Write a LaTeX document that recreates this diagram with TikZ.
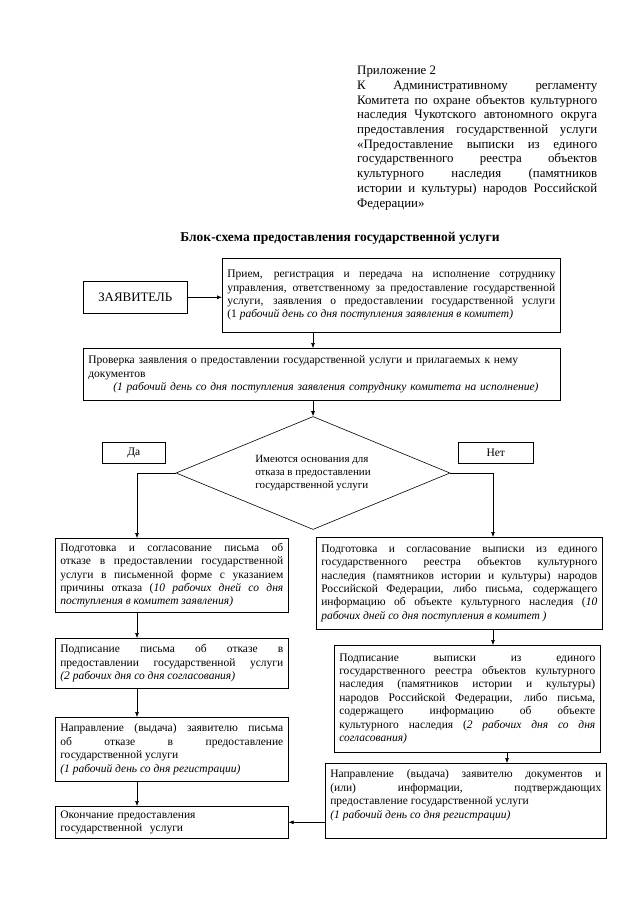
\documentclass[tikz,border=0pt]{standalone}
\usepackage{fontspec}
\setmainfont{Liberation Serif}
\usetikzlibrary{shapes.geometric,arrows.meta}
\hyphenpenalty=10000
\tikzset{
	blok/.style={draw, line width=0.6pt, anchor=north west, inner xsep=5pt, inner ysep=2pt, align=justify, font=\fontsize{11.5}{13.4}\selectfont},
	strelka/.style={line width=0.6pt, -{Latex[length=5pt,width=4pt]}},
}

\begin{document}
\begin{tikzpicture}[x=1pt,y=-1pt]
		%%%%% START %%%%%
		
		\fill[white] (0,0) rectangle (640,905);
		\useasboundingbox (0,0) rectangle (640,905);
		
		\node[anchor=north west, inner sep=0pt, text width=240pt, align=justify, font=\fontsize{12.9}{14.7}\selectfont] (prilozh) at (357,66) {Приложение 2\newline К Административному регламенту\linebreak Комитета по охране объектов культурного\linebreak наследия Чукотского автономного округа\linebreak предоставления государственной услуги\linebreak «Предоставление выписки из единого\linebreak государственного реестра объектов\linebreak культурного наследия (памятников\linebreak истории и культуры) народов Российской\linebreak Федерации»};
		
		\node[font=\bfseries\fontsize{13.5}{15}\selectfont] (zagolovok) at (340,238) {Блок-схема предоставления государственной услуги};
		
		\node[blok, text width=94pt, minimum height=32pt, align=center, font=\fontsize{12.9}{14.7}\selectfont] (zayav) at (83,281) {ЗАЯВИТЕЛЬ};
		\node[blok, text width=328pt, minimum height=74pt] (priem) at (222,258) {Прием, регистрация и передача на исполнение сотруднику\linebreak управления, ответственному за предоставление государственной\linebreak услуги, заявления о предоставлении государственной услуги\linebreak (1 \textit{рабочий день со дня поступления заявления в комитет)}};
		\node[blok, text width=467pt, minimum height=52pt, align=left] (proverka) at (83,348) {Проверка заявления о предоставлении государственной услуги и прилагаемых к нему\newline документов\newline \hspace*{25pt}\textit{(1 рабочий день со дня поступления заявления сотруднику комитета на исполнение)}};
		
		\node[draw, diamond, aspect=2.42, line width=0.6pt, minimum width=274pt, minimum height=113pt, inner sep=0pt, align=left, font=\fontsize{11}{13.2}\selectfont] (romb) at (313,473) {Имеются основания для\\отказа в предоставлении\\государственной услуги};
		\node[blok, text width=53pt, minimum height=21pt, align=center] (da) at (102,442) {Да};
		\node[blok, text width=65pt, minimum height=21pt, align=center] (net) at (458,442) {Нет};
		
		\node[blok, text width=223pt, minimum height=74pt] (otkaz1) at (55,538) {Подготовка и согласование письма об\linebreak отказе в предоставлении государственной\linebreak услуги в письменной форме с указанием\linebreak причины отказа (\textit{10 рабочих дней со дня\linebreak поступления в комитет заявления)}};
		\node[blok, text width=223pt, minimum height=50pt] (otkaz2) at (55,638) {Подписание письма об отказе в\linebreak предоставлении государственной услуги\linebreak \textit{(2 рабочих дня со дня согласования)}};
		\node[blok, text width=223pt, minimum height=64pt] (otkaz3) at (55,717) {Направление (выдача) заявителю письма\linebreak об отказе в предоставление\linebreak государственной услуги\newline \textit{(1 рабочий день со дня регистрации)}};
		\node[blok, text width=223pt, minimum height=32pt, align=left] (okonch) at (55,806) {Окончание предоставления\newline государственной\ \ услуги};
		
		\node[blok, text width=276pt, minimum height=92pt] (vyp1) at (316,537) {Подготовка и согласование выписки из единого\linebreak государственного реестра объектов культурного\linebreak наследия (памятников истории и культуры) народов\linebreak Российской Федерации, либо письма, содержащего\linebreak информацию об объекте культурного наследия (\textit{10\linebreak рабочих дней со дня поступления в комитет )}};
		\node[blok, text width=256pt, minimum height=107pt] (vyp2) at (334,645) {Подписание выписки из единого\linebreak государственного реестра объектов культурного\linebreak наследия (памятников истории и культуры)\linebreak народов Российской Федерации, либо письма,\linebreak содержащего информацию об объекте\linebreak культурного наследия (\textit{2 рабочих дня со дня\linebreak согласования)}};
		\node[blok, text width=271pt, minimum height=75pt] (vyp3) at (325,763) {Направление (выдача) заявителю документов и\linebreak (или) информации, подтверждающих\linebreak предоставление государственной услуги\newline \textit{(1 рабочий день со дня регистрации)}\newline\mbox{}};
		
		\coordinate (lv) at (137,0);
		\coordinate (rv) at (493,0);
		\coordinate (rv2) at (507,0);
		
		\draw[strelka] (zayav.east) -- (zayav.east -| priem.west);
		\draw[strelka] (priem.south -| romb.north) -- (proverka.north -| romb.north);
		\draw[strelka] (proverka.south -| romb.north) -- (romb.north);
		\draw[strelka] (romb.west) -| (lv |- otkaz1.north);
		\draw[strelka] (romb.east) -| (rv |- vyp1.north);
		\draw[strelka] (lv |- otkaz1.south) -- (lv |- otkaz2.north);
		\draw[strelka] (lv |- otkaz2.south) -- (lv |- otkaz3.north);
		\draw[strelka] (lv |- otkaz3.south) -- (lv |- okonch.north);
		\draw[strelka] (rv |- vyp1.south) -- (rv |- vyp2.north);
		\draw[strelka] (rv2 |- vyp2.south) -- (rv2 |- vyp3.north);
		\draw[strelka] (okonch.east -| vyp3.west) -- (okonch.east);
		
		%%%%% END %%%%%
	\end{tikzpicture}
\end{document}
